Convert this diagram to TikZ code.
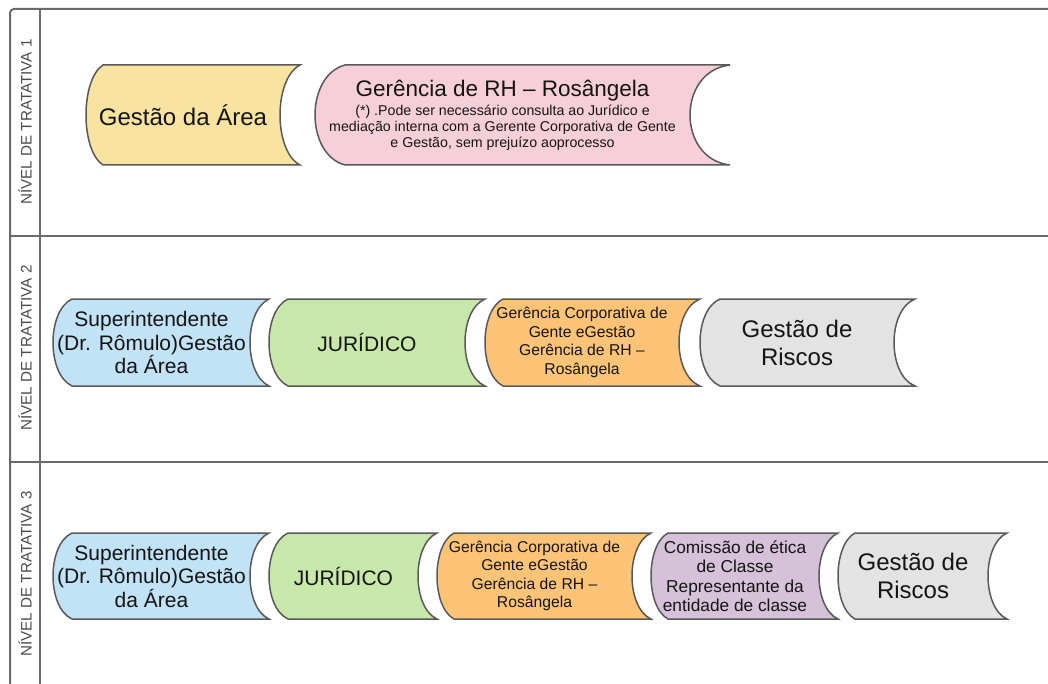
\documentclass[tikz,border=0pt]{standalone}
\usepackage{fontspec}
\setmainfont{Liberation Sans}
\definecolor{framegray}{HTML}{6A6A6A}
\definecolor{edgegray}{HTML}{595959}
\definecolor{labelgray}{HTML}{4A4A4A}
\definecolor{txt}{HTML}{141414}
\definecolor{fyellow}{HTML}{F9E3A0}
\definecolor{fpink}{HTML}{F7CFDB}
\definecolor{fblue}{HTML}{C2E2F5}
\definecolor{fgreen}{HTML}{C8E7AA}
\definecolor{forange}{HTML}{FDC477}
\definecolor{fgray}{HTML}{E3E3E3}
\definecolor{fpurple}{HTML}{D6C2D8}
\tikzset{
  frame/.style={draw=framegray, line width=2pt},
  sdline/.style={draw=edgegray, line width=1.5pt, line join=miter},
  lanelabel/.style={rotate=90, inner sep=0, text=labelgray, font=\fontsize{15.2}{18}\selectfont},
  tbig/.style={align=center, inner sep=0, text=txt, font=\fontsize{24}{28}\selectfont},
  tmid/.style={align=center, inner sep=0, text=txt, font=\fontsize{21}{23.5}\selectfont},
  torg/.style={align=center, inner sep=0, text=txt, font=\fontsize{15.7}{18.5}\selectfont},
  tpur/.style={align=center, inner sep=0, text=txt, font=\fontsize{17.3}{19.5}\selectfont},
  tnote/.style={align=center, inner sep=0, text=txt, font=\fontsize{14.2}{15.8}\selectfont},
}
% stored-data shape
% #1 name, #2 L, #3 R, #4 T, #5 B, #6 left depth, #7 right depth, #8 fill, #9 text style; then {text}
\newcommand{\sdbox}[9]{%
  \pgfmathsetmacro\sdel{0.5*((#5-#4)/3 - 4*#6*#6/(3*(#5-#4)))}%
  \pgfmathsetmacro\sder{0.5*((#5-#4)/3 - 4*#7*#7/(3*(#5-#4)))}%
  \path[sdline, fill=#8] ({#2+#6},#4) -- (#3,#4)
    .. controls ({#3-4/3*#7},{#4+\sder}) and ({#3-4/3*#7},{#5-\sder}) .. (#3,#5)
    -- ({#2+#6},#5)
    .. controls ({#2+#6-4/3*#6},{#5-\sdel}) and ({#2+#6-4/3*#6},{#4+\sdel}) .. ({#2+#6},#4) -- cycle;
  \pgfmathsetmacro\sdcx{(#2+#3-#7)/2}%
  \pgfmathsetmacro\sdcy{(#4+#5)/2}%
  \def\sdname{#1}%
  \tikzset{sdcur/.style={#9}}%
  \sdboxtext}
\newcommand{\sdboxtext}[1]{\node[sdcur] (\sdname) at (\sdcx,\sdcy) {#1};}
\begin{document}
\begin{tikzpicture}[x=1pt, y=-1pt]
\useasboundingbox (0,0) rectangle (1048,684);
% frame
\draw[frame, rounded corners=4pt] (1048,9) -- (10,9) -- (10,690);
\draw[frame] (40,9) -- (40,690);
\draw[frame] (10,236) -- (1048,236);
\draw[frame] (10,462) -- (1048,462);
% lane labels
\node[lanelabel] (lab1) at (25,122) {NÍVEL DE TRATATIVA 1};
\node[lanelabel] (lab2) at (25,348) {NÍVEL DE TRATATIVA 2};
\node[lanelabel] (lab3) at (25,574) {NÍVEL DE TRATATIVA 3};
% lane 1
\sdbox{gestaoA}{86}{300}{65}{165}{17}{20}{fyellow}{tbig}{Gestão da Área}
\sdbox{gerRH}{315}{730}{65}{165}{30}{40}{fpink}{tnote}{{\fontsize{22.5}{20}\selectfont Gerência de RH – Rosângela}\\[4pt](*) .Pode ser necessário consulta ao Jurídico e\\mediação interna com a Gerente Corporativa de Gente\\e Gestão, sem prejuízo aoprocesso}
% lane 2
\sdbox{sup2}{53}{269}{299}{386}{19}{19}{fblue}{tmid}{Superintendente\\(Dr. Rômulo)Gestão\\da Área}
\sdbox{jur2}{269}{485}{299}{386}{19}{20}{fgreen}{tmid}{JURÍDICO}
\sdbox{gcg2}{485}{700}{299}{386}{18}{21}{forange}{torg}{Gerência Corporativa de\\Gente eGestão\\Gerência de RH –\\Rosângela}
\sdbox{ris2}{700}{915}{299}{386}{20}{21}{fgray}{tbig}{Gestão de\\Riscos}
% lane 3
\sdbox{sup3}{53}{269}{533}{619}{19}{19}{fblue}{tmid}{Superintendente\\(Dr. Rômulo)Gestão\\da Área}
\sdbox{jur3}{269}{437}{533}{619}{19}{19}{fgreen}{tmid}{JURÍDICO}
\sdbox{gcg3}{437}{651}{533}{619}{17}{19}{forange}{torg}{Gerência Corporativa de\\Gente eGestão\\Gerência de RH –\\Rosângela}
\sdbox{com3}{651}{838}{533}{619}{17}{19}{fpurple}{tpur}{Comissão de ética\\de Classe\\Representante da\\entidade de classe}
\sdbox{ris3}{838}{1007}{533}{619}{17}{19}{fgray}{tbig}{Gestão de\\Riscos}
\end{tikzpicture}
\end{document}
